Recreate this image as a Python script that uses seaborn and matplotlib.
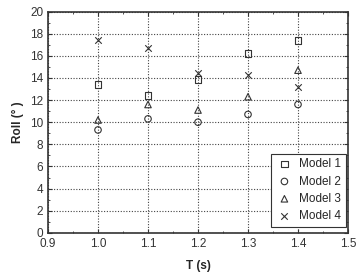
import matplotlib
matplotlib.use("Agg")
import matplotlib.pyplot as plt
import seaborn as sns
import pandas as pd
from matplotlib.ticker import MultipleLocator

periods = [1.0, 1.1, 1.2, 1.3, 1.4]
model1 = [13.4, 12.4, 13.85, 16.2, 17.4]
model2 = [9.3, 10.3, 10.0, 10.7, 11.6]
model3 = [10.2, 11.6, 11.1, 12.3, 14.7]
model4 = [17.4, 16.7, 14.4, 14.3, 13.2]
labels = ["Model 1", "Model 2", "Model 3", "Model 4"]

rows = []
for name, vals in zip(labels, [model1, model2, model3, model4]):
    for t, v in zip(periods, vals):
        rows.append({"T": t, "Roll": v, "Model": name})
df = pd.DataFrame(rows)

sns.set_style("ticks")
plt.rcParams['font.family'] = ['Liberation Sans', 'DejaVu Sans']

fig = plt.figure(figsize=(3.61, 2.74), dpi=100)
ax = fig.add_axes([0.133, 0.15, 0.831, 0.808])

markers = {"Model 1": "s", "Model 2": "o", "Model 3": "^", "Model 4": "x"}
for name in labels:
    sub = df[df["Model"] == name]
    m = markers[name]
    kw = dict(facecolors="none", edgecolors="#333333") if m != "x" else dict(color="#333333")
    sns.scatterplot(data=sub, x="T", y="Roll", marker=m, s=22, linewidth=0.8,
                    ax=ax, label=name, zorder=3, **kw)

ax.set_xlim(0.9, 1.5)
ax.set_ylim(0, 20)
ax.xaxis.set_major_locator(MultipleLocator(0.1))
ax.xaxis.set_minor_locator(MultipleLocator(0.05))
ax.yaxis.set_major_locator(MultipleLocator(2))
ax.yaxis.set_minor_locator(MultipleLocator(1))
ax.xaxis.set_major_formatter(matplotlib.ticker.FormatStrFormatter("%.1f"))
ax.grid(True, which="major", linestyle=(0, (1, 1.5)), color="#444444", linewidth=0.8)
ax.tick_params(which="both", direction="in", top=True, right=True, labelsize=8.5,
               colors="#333333", labelcolor="#333333")
ax.tick_params(axis="x", which="major", pad=4)
ax.tick_params(which="major", length=3)
ax.tick_params(which="minor", length=1.5)
for sp in ax.spines.values():
    sp.set_linewidth(1.2)
    sp.set_color("#333333")
ax.set_xlabel("T (s)", fontsize=8.5, fontweight="bold", labelpad=7)
ax.set_ylabel("Roll (° )", fontsize=8.5, fontweight="bold", labelpad=4)

leg = ax.legend(loc="lower right", fontsize=8.5, frameon=True, fancybox=False,
                handletextpad=0.5, borderpad=0.4, labelspacing=0.45,
                bbox_to_anchor=(0.993, 0.027), borderaxespad=0, handlelength=1.5)
leg.get_frame().set_edgecolor("#333333")
leg.get_frame().set_linewidth(0.8)
leg.get_frame().set_alpha(1)

fig.savefig("out.png", dpi=100)
